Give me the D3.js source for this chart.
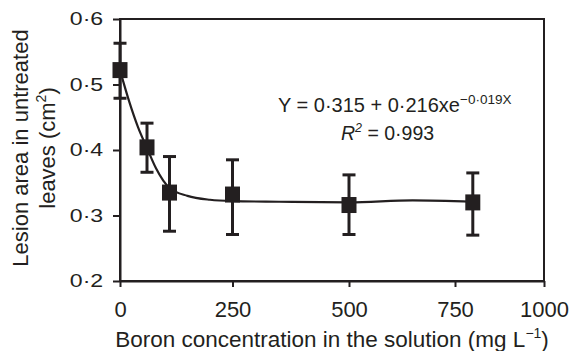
<!DOCTYPE html>
<html>
<head>
<meta charset="utf-8">
<script src="https://cdn.jsdelivr.net/npm/d3@7"></script>
<style>
  body { margin: 0; background: #fff; }
  text { font-family: "Liberation Sans", Arial, sans-serif; fill: #231f20; }
</style>
</head>
<body>
<script>
// measured points
const boron = [0, 60, 110, 250, 500, 800];
const lesion = [0.522, 0.404, 0.335, 0.332, 0.316, 0.320];
const errLow = [0.479, 0.366, 0.276, 0.271, 0.271, 0.270];
const errHigh = [0.563, 0.441, 0.390, 0.385, 0.362, 0.365];

// fitted curve
const curveX = [0, 20, 40, 60, 80, 110, 150, 200, 250, 350, 500, 650, 800];
const curveY = [0.522, 0.475, 0.435, 0.403, 0.372, 0.342, 0.330, 0.324, 0.322, 0.321, 0.320, 0.323, 0.321];

const xTicks = [0, 250, 500, 750, 1000];
const yTicks = [0.2, 0.3, 0.4, 0.5, 0.6];

const svgWidth = 571;
const svgHeight = 351;
const ink = '#231f20';
const font = '"Liberation Sans", Arial, sans-serif';

const svg = d3.select('body').append('svg')
    .attr('width', svgWidth)
    .attr('height', svgHeight);

// x axis in the original is not evenly spaced
const x = d3.scaleLinear().domain(xTicks).range([120, 232.5, 349, 455, 544]);
const y = d3.scaleLinear().domain([0.2, 0.6]).range([281, 19]);

const fmt = d => d3.format('.1f')(d).replace('.', '·');

// frame
svg.append('rect')
    .attr('x', x(0)).attr('y', y(0.6))
    .attr('width', x(1000) - x(0)).attr('height', y(0.2) - y(0.6))
    .attr('fill', 'none').attr('stroke', ink).attr('stroke-width', 2);

const gx = svg.append('g')
    .attr('transform', `translate(0,${y(0.2)})`)
    .call(d3.axisBottom(x).tickValues(xTicks).tickFormat(d3.format('d'))
        .tickSize(6).tickSizeOuter(0).tickPadding(14));
const gy = svg.append('g')
    .attr('transform', `translate(${x(0)},0)`)
    .call(d3.axisLeft(y).tickValues(yTicks).tickFormat(fmt)
        .tickSize(7).tickSizeOuter(0).tickPadding(9));

[gx, gy].forEach(g => {
    g.select('.domain').attr('stroke', ink).attr('stroke-width', 2);
    g.selectAll('.tick line').attr('stroke', ink).attr('stroke-width', 2);
    g.selectAll('.tick text').attr('font-size', 22).attr('fill', ink)
        .style('font-family', font);
});
// y labels look squashed vertically in the original
gy.selectAll('.tick text').attr('transform', 'scale(1.05,0.8)');

// curve
const pts = curveX.map((d, i) => [d, curveY[i]]);
svg.append('path')
    .datum(pts)
    .attr('d', d3.line().x(d => x(d[0])).y(d => y(d[1])).curve(d3.curveMonotoneX))
    .attr('fill', 'none').attr('stroke', ink).attr('stroke-width', 2.2);

// error bars
const bars = svg.append('g').attr('stroke', ink).attr('stroke-width', 3);
boron.forEach((b, i) => {
    bars.append('line').attr('x1', x(b)).attr('x2', x(b)).attr('y1', y(errLow[i])).attr('y2', y(errHigh[i]));
    [errLow[i], errHigh[i]].forEach(v => {
        bars.append('line').attr('x1', x(b) - 6.5).attr('x2', x(b) + 6.5).attr('y1', y(v)).attr('y2', y(v));
    });
});

// squares
svg.append('g').selectAll('rect')
    .data(boron)
    .join('rect')
    .attr('x', d => x(d) - 7.5)
    .attr('y', (d, i) => y(lesion[i]) - 8)
    .attr('width', 15).attr('height', 16)
    .attr('fill', ink);

// axis titles
const xt = svg.append('text')
    .attr('x', 332).attr('y', 346.5)
    .attr('text-anchor', 'middle').attr('font-size', 22.5);
xt.append('tspan').text('Boron concentration in the solution (mg L');
xt.append('tspan').attr('font-size', 14).attr('dy', -9).text('−1');
xt.append('tspan').attr('dy', 9).text(')');

const yt = svg.append('text')
    .attr('transform', 'translate(28,148) rotate(-90)')
    .attr('text-anchor', 'middle').attr('font-size', 22);
yt.append('tspan').attr('x', 0).text('Lesion area in untreated');
const l2 = yt.append('tspan').attr('x', 0).attr('dy', 27);
l2.append('tspan').text('leaves (cm');
l2.append('tspan').attr('font-size', 14).attr('dy', -9).text('2');
l2.append('tspan').attr('dy', 9).text(')');

// equation
const eq = svg.append('text').attr('x', 278).attr('y', 112).attr('font-size', 20);
eq.append('tspan').text('Y = 0·315 + 0·216xe');
eq.append('tspan').attr('font-size', 13.5).attr('dy', -8).text('−0·019X');

const r2 = svg.append('text').attr('x', 341).attr('y', 140).attr('font-size', 19.5);
r2.append('tspan').attr('font-style', 'italic').text('R');
r2.append('tspan').attr('font-size', 12.5).attr('dy', -8).attr('font-style', 'italic').text('2');
r2.append('tspan').attr('dy', 8).text(' = 0·993');
</script>
</body>
</html>
